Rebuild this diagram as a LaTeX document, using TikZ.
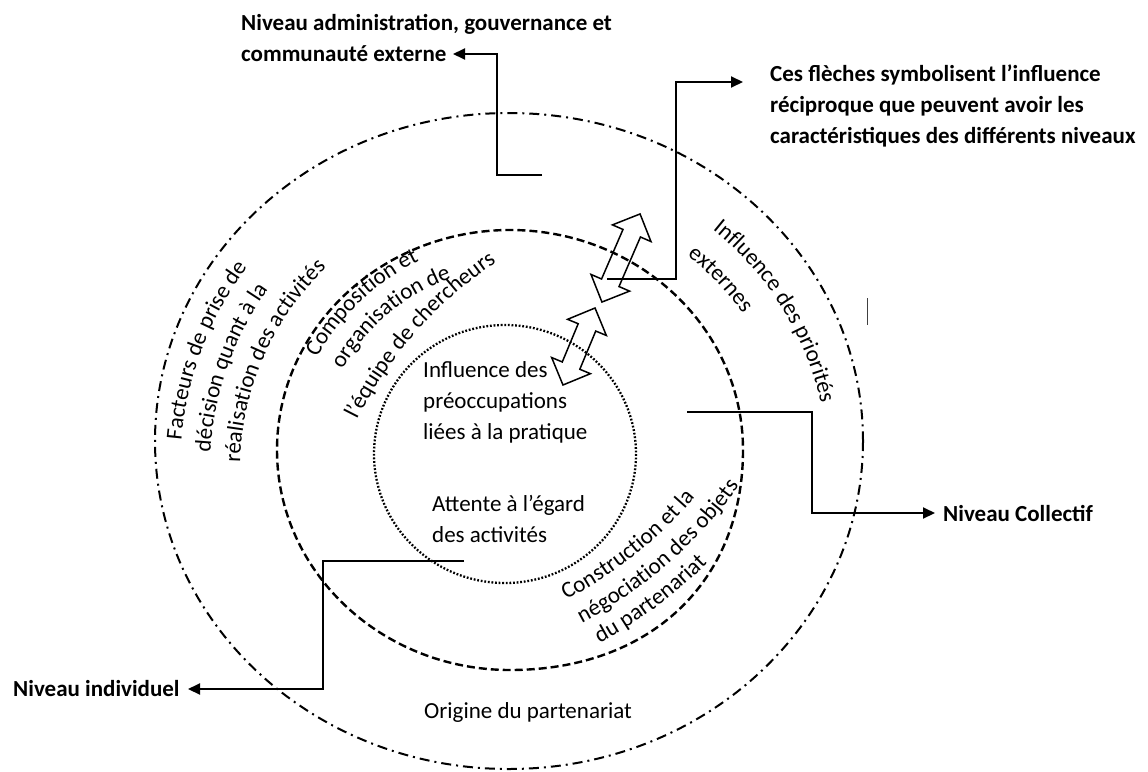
\documentclass[tikz,border=0pt]{standalone}
\usepackage{fontspec}
\setmainfont{Carlito}
\usetikzlibrary{decorations.text, arrows.meta}
\newcommand{\curvtxt}{\fontsize{23}{28}\selectfont}
\begin{document}
\begin{tikzpicture}[x=1pt,y=-1pt,
  lab/.style={font=\fontsize{23}{31}\selectfont, inner sep=0pt, align=left},
  blab/.style={font=\fontsize{23}{31}\selectfont\bfseries, inner sep=0pt, align=left},
  conn/.style={line width=2pt, -{Triangle[length=12pt,width=11pt]}},
  ringout/.style={line width=2pt, dash pattern=on 10pt off 5pt on 2pt off 5pt},
  ringmid/.style={line width=2.4pt, dash pattern=on 8pt off 4pt},
  ringin/.style={line width=2.3pt, dash pattern=on 1.8pt off 1.8pt},
  dbl/.style={line width=1.5pt, line join=miter},
  curv/.style={decorate, decoration={text along path, text align=left, text={|\curvtxt|#1}}}
]
\useasboundingbox (0,0) rectangle (1148,771);
\fill[white] (0,0) rectangle (1148,771);

% rings
\draw[ringout] (509,441) ellipse [x radius=354, y radius=328];
\draw[ringmid] (743,450) .. controls (743,582) and (650,670) .. (510,670)
  arc[start angle=90, end angle=360, x radius=233, y radius=220];
\draw[ringin] (505,454) ellipse [x radius=131, y radius=129];

% double arrows
\begin{scope}[shift={(621,258)}, rotate=66.6]
\draw[dbl] (48,0) -- (27,21) -- (27,9.5) -- (-27,9.5) -- (-27,21) -- (-48,0)
  -- (-27,-21) -- (-27,-9.5) -- (27,-9.5) -- (27,-21) -- cycle;
\end{scope}
\begin{scope}[shift={(579,346.5)}, rotate=67.4]
\draw[dbl] (41.7,0) -- (20.7,21) -- (20.7,9.5) -- (-20.7,9.5) -- (-20.7,21) -- (-41.7,0)
  -- (-20.7,-21) -- (-20.7,-9.5) -- (20.7,-9.5) -- (20.7,-21) -- cycle;
\end{scope}

% stray tick
\draw[line width=1pt, black!75] (867,298) -- (867,325);

% labels
\node[blab, anchor=west] (adm) at (241,38) {Niveau administration, gouvernance et\\communauté externe};
\node[blab, anchor=west] (ces) at (770,106) {Ces flèches symbolisent l’influence\\réciproque que peuvent avoir les\\caractéristiques des différents niveaux};
\node[blab, anchor=west] (coll) at (943,513) {Niveau Collectif};
\node[blab, anchor=west] (ind) at (13,689) {Niveau individuel};
\node[lab, anchor=west] (infl) at (423,402) {Influence des\\préoccupations\\liées à la pratique};
\node[lab, anchor=west] (att) at (432,519) {Attente à l’égard\\des activités};
\node[lab, anchor=west] (orig) at (424,712) {Origine du partenariat};

% connectors
\coordinate (adm-a) at (542,175);
\coordinate (adm-b) at (453,54);
\draw[conn] (adm-a) -- ++(-45,0) |- (adm-b);
\coordinate (ces-a) at (607,279);
\coordinate (ces-b) at (743,82);
\draw[conn] (ces-a) -- ++(69,0) |- (ces-b);
\coordinate (col-a) at (687,412);
\coordinate (col-b) at (935,513);
\draw[conn] (col-a) -- ++(125,0) |- (col-b);
\coordinate (ind-a) at (464,561);
\coordinate (ind-b) at (188,689);
\draw[conn] (ind-a) -- ++(-141,0) |- (ind-b);

% curved texts: outer ring left
\path[curv={Facteurs de prise de}] (520,470) ++(185:340) arc[start angle=185, end angle=265, radius=340];
\path[curv={décision quant à la}] (520,470) ++(183.3:310) arc[start angle=183.3, end angle=265, radius=310];
\path[curv={réalisation des activités}] (520,470) ++(181.5:280) arc[start angle=181.5, end angle=275, radius=280];
% middle ring upper left
\path[curv={Composition et}] (520,470) ++(209:232) arc[start angle=209, end angle=300, radius=232];
\path[curv={organisation de}] (520,470) ++(209.5:204) arc[start angle=209.5, end angle=300, radius=204];
\path[curv={l’équipe de chercheurs}] (725,605) ++(206.7:412) arc[start angle=206.7, end angle=260, radius=412];
% outer ring upper right
\path[curv={Influence des priorités}] (520,470) ++(-51.3:308) arc[start angle=-51.3, end angle=30, radius=308];
\path[curv={externes}] (520,470) ++(-52.1:272) arc[start angle=-52.1, end angle=20, radius=272];
% middle ring lower right
\path[curv={Construction et la}] (375,228) ++(62.8:418) arc[start angle=62.8, end angle=0, radius=418];
\path[curv={négociation des objets}] (375,228) ++(62.35:446) arc[start angle=62.35, end angle=0, radius=446];
\path[curv={du partenariat}] (375,228) ++(61.6:472) arc[start angle=61.6, end angle=0, radius=472];
\end{tikzpicture}
\end{document}
